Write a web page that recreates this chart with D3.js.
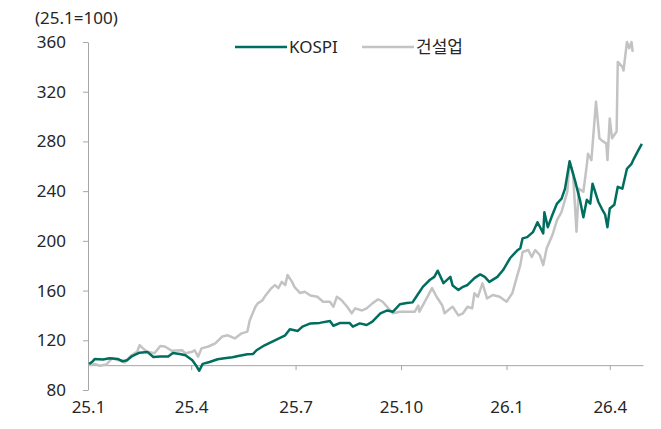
<!DOCTYPE html>
<html>
<head>
<meta charset="utf-8">
<script src="https://cdn.jsdelivr.net/npm/d3@7"></script>
<style>
  body { margin: 0; background: #fff; }
  svg text { font-family: "Noto Sans", "Noto Sans CJK KR", sans-serif; fill: #262626; }
</style>
</head>
<body>
<svg id="chart"></svg>
<script>
// values (index, 25.1 = 100)
const kospi = [
  ["2025-01-02", 101], ["2025-01-05", 103], ["2025-01-07", 105], ["2025-01-14", 104.5],
  ["2025-01-20", 105.5], ["2025-01-27", 105], ["2025-01-31", 103], ["2025-02-04", 104],
  ["2025-02-08", 107], ["2025-02-15", 110], ["2025-02-22", 110.5], ["2025-02-27", 106.5],
  ["2025-03-05", 107], ["2025-03-12", 107], ["2025-03-16", 109.7], ["2025-03-22", 109],
  ["2025-03-27", 108], ["2025-04-02", 104], ["2025-04-05", 100], ["2025-04-08", 95.5],
  ["2025-04-11", 101], ["2025-04-17", 102.5], ["2025-04-24", 104.7], ["2025-04-30", 105.5],
  ["2025-05-07", 106.3], ["2025-05-12", 107.3], ["2025-05-20", 108.7], ["2025-05-25", 109],
  ["2025-05-28", 112], ["2025-06-04", 116], ["2025-06-13", 120], ["2025-06-22", 124],
  ["2025-06-26", 128.8], ["2025-07-03", 127.5], ["2025-07-07", 131], ["2025-07-14", 133.6],
  ["2025-07-22", 134], ["2025-07-31", 135.5], ["2025-08-03", 131.7], ["2025-08-09", 134],
  ["2025-08-17", 134], ["2025-08-20", 131], ["2025-08-26", 133.6], ["2025-09-01", 132.3],
  ["2025-09-06", 135], ["2025-09-13", 141.7], ["2025-09-19", 144], ["2025-09-24", 143],
  ["2025-09-30", 149], ["2025-10-06", 150], ["2025-10-11", 150.5], ["2025-10-15", 156],
  ["2025-10-20", 163], ["2025-10-26", 168.5], ["2025-10-30", 171], ["2025-11-02", 176],
  ["2025-11-07", 166], ["2025-11-13", 171], ["2025-11-15", 164], ["2025-11-20", 160.4],
  ["2025-11-24", 163], ["2025-11-28", 164.5], ["2025-12-04", 170], ["2025-12-09", 173],
  ["2025-12-13", 171], ["2025-12-17", 167], ["2025-12-24", 171], ["2025-12-29", 176.5],
  ["2026-01-04", 186], ["2026-01-10", 192], ["2026-01-13", 194], ["2026-01-15", 202],
  ["2026-01-19", 203], ["2026-01-24", 207], ["2026-01-28", 215], ["2026-02-02", 206],
  ["2026-02-03", 223], ["2026-02-06", 211], ["2026-02-10", 221], ["2026-02-14", 230],
  ["2026-02-18", 234], ["2026-02-21", 242], ["2026-02-25", 264], ["2026-03-02", 247.5],
  ["2026-03-06", 233], ["2026-03-09", 219], ["2026-03-12", 233], ["2026-03-15", 230],
  ["2026-03-17", 246], ["2026-03-22", 231.5], ["2026-03-25", 226], ["2026-03-28", 221],
  ["2026-03-30", 211], ["2026-04-01", 226], ["2026-04-05", 229], ["2026-04-08", 243.5],
  ["2026-04-12", 242], ["2026-04-16", 258], ["2026-04-20", 262], ["2026-04-22", 266],
  ["2026-04-26", 273], ["2026-04-29", 278]
]

const construction = [
  ["2025-01-02", 100], ["2025-01-07", 101], ["2025-01-11", 99.5], ["2025-01-17", 100.5],
  ["2025-01-22", 105.5], ["2025-01-27", 104], ["2025-01-31", 104], ["2025-02-02", 102],
  ["2025-02-08", 108], ["2025-02-13", 111], ["2025-02-15", 116], ["2025-02-18", 113.5],
  ["2025-02-21", 111], ["2025-02-28", 109.5], ["2025-03-05", 115.4], ["2025-03-09", 115],
  ["2025-03-15", 111.6], ["2025-03-24", 112], ["2025-03-27", 109.5], ["2025-04-02", 110.8],
  ["2025-04-04", 112], ["2025-04-07", 106.8], ["2025-04-10", 113.5], ["2025-04-16", 115],
  ["2025-04-22", 117.5], ["2025-04-28", 123], ["2025-05-03", 124], ["2025-05-09", 121.5],
  ["2025-05-15", 125.6], ["2025-05-20", 127], ["2025-05-22", 136], ["2025-05-27", 147],
  ["2025-05-29", 149.7], ["2025-06-02", 152], ["2025-06-04", 155], ["2025-06-10", 162],
  ["2025-06-13", 164.4], ["2025-06-16", 162], ["2025-06-19", 167], ["2025-06-22", 164.4],
  ["2025-06-24", 172.5], ["2025-06-28", 167], ["2025-06-30", 163], ["2025-07-05", 158],
  ["2025-07-09", 159], ["2025-07-14", 156], ["2025-07-20", 155], ["2025-07-25", 151],
  ["2025-07-31", 151], ["2025-08-03", 147], ["2025-08-06", 155], ["2025-08-10", 152.4],
  ["2025-08-15", 147], ["2025-08-19", 141.7], ["2025-08-22", 145.7], ["2025-08-28", 144],
  ["2025-09-01", 145.7], ["2025-09-06", 149.7], ["2025-09-11", 153], ["2025-09-15", 151],
  ["2025-09-20", 145.7], ["2025-09-24", 141.7], ["2025-09-30", 143], ["2025-10-09", 143],
  ["2025-10-13", 143], ["2025-10-16", 148], ["2025-10-17", 143], ["2025-10-24", 155],
  ["2025-10-28", 162], ["2025-11-01", 155], ["2025-11-06", 148], ["2025-11-08", 141.7],
  ["2025-11-13", 145.7], ["2025-11-15", 147], ["2025-11-20", 140], ["2025-11-24", 141.7],
  ["2025-11-28", 147], ["2025-12-02", 145.7], ["2025-12-04", 157.8], ["2025-12-07", 155],
  ["2025-12-11", 165.8], ["2025-12-15", 153.7], ["2025-12-20", 156.4], ["2025-12-26", 155],
  ["2026-01-01", 151], ["2026-01-06", 157.8], ["2026-01-10", 171], ["2026-01-13", 180.5],
  ["2026-01-15", 191], ["2026-01-20", 192.6], ["2026-01-23", 187], ["2026-01-26", 192.6],
  ["2026-01-30", 188.6], ["2026-02-02", 180.5], ["2026-02-05", 194], ["2026-02-10", 204.7],
  ["2026-02-14", 216.7], ["2026-02-18", 223.4], ["2026-02-23", 239.5], ["2026-02-25", 263.6],
  ["2026-02-28", 254], ["2026-03-03", 207.3], ["2026-03-05", 242], ["2026-03-09", 239.5],
  ["2026-03-12", 261], ["2026-03-13", 270], ["2026-03-16", 265], ["2026-03-20", 312],
  ["2026-03-23", 282.5], ["2026-03-26", 280], ["2026-03-29", 278.4], ["2026-03-30", 265],
  ["2026-04-01", 298.5], ["2026-04-03", 282.5], ["2026-04-07", 288], ["2026-04-08", 344],
  ["2026-04-12", 340], ["2026-04-13", 337], ["2026-04-16", 360], ["2026-04-18", 355],
  ["2026-04-20", 360], ["2026-04-21", 352]
]

const yTicks = [80, 120, 160, 200, 240, 280, 320, 360]
const xTicks = ["2025-01-01", "2025-04-01", "2025-07-01", "2025-10-01", "2026-01-01", "2026-04-01"]
const xTickLabels = ["25.1", "25.4", "25.7", "25.10", "26.1", "26.4"]
const seriesNames = ["KOSPI", "건설업"]
const unitLabel = "(25.1=100)"

const width = 661
const height = 429
const fontSize = '17px'
const parse = d3.timeParse("%Y-%m-%d")

const svg = d3.select('#chart')
  .attr('width', width)
  .attr('height', height)

const xScale = d3.scaleTime()
  .domain([parse("2025-01-01"), parse("2026-04-30")])
  .range([88, 643])

const yScale = d3.scaleLinear()
  .domain([80, 360])
  .range([390, 42])

const axisColor = '#a6a6a6'

// y axis
const yAxis = d3.axisLeft(yScale).tickValues(yTicks).tickSize(5).tickSizeOuter(0).tickPadding(17)
const gy = svg.append('g')
  .attr('transform', 'translate(88,0)')
  .call(yAxis)
gy.selectAll('path, line').attr('stroke', axisColor)
gy.selectAll('text').style('font-size', fontSize).attr('fill', '#262626')

// x axis sits on the 100 line
const xAxis = d3.axisBottom(xScale)
  .tickValues(xTicks.map(parse))
  .tickFormat((d, i) => xTickLabels[i])
  .tickSize(5).tickSizeOuter(0).tickPadding(31)
const gx = svg.append('g')
  .attr('transform', `translate(0, ${yScale(100)})`)
  .call(xAxis)
gx.selectAll('path, line').attr('stroke', axisColor)
gx.selectAll('text').style('font-size', fontSize).attr('fill', '#262626')

svg.append('text')
  .attr('x', 35)
  .attr('y', 24)
  .style('font-size', fontSize)
  .text(unitLabel)

const line = d3.line()
  .x(d => xScale(parse(d[0])))
  .y(d => yScale(d[1]))

svg.append('path')
  .datum(construction)
  .attr('fill', 'none')
  .attr('stroke', '#c3c3c3')
  .attr('stroke-width', 2.5)
  .attr('stroke-linejoin', 'round')
  .attr('d', line)

svg.append('path')
  .datum(kospi)
  .attr('fill', 'none')
  .attr('stroke', '#006e5f')
  .attr('stroke-width', 2.5)
  .attr('stroke-linejoin', 'round')
  .attr('d', line)

// legend
const legend = svg.append('g')
const legendItems = [
  { name: seriesNames[0], color: '#006e5f', x: 235 },
  { name: seriesNames[1], color: '#c3c3c3', x: 362 }
]
legendItems.forEach(item => {
  legend.append('line')
    .attr('x1', item.x).attr('x2', item.x + 52)
    .attr('y1', 47).attr('y2', 47)
    .attr('stroke', item.color)
    .attr('stroke-width', 2.5)
  legend.append('text')
    .attr('x', item.x + 54)
    .attr('y', 47)
    .attr('dy', '0.35em')
    .style('font-size', fontSize)
    .text(item.name)
})
</script>
</body>
</html>
